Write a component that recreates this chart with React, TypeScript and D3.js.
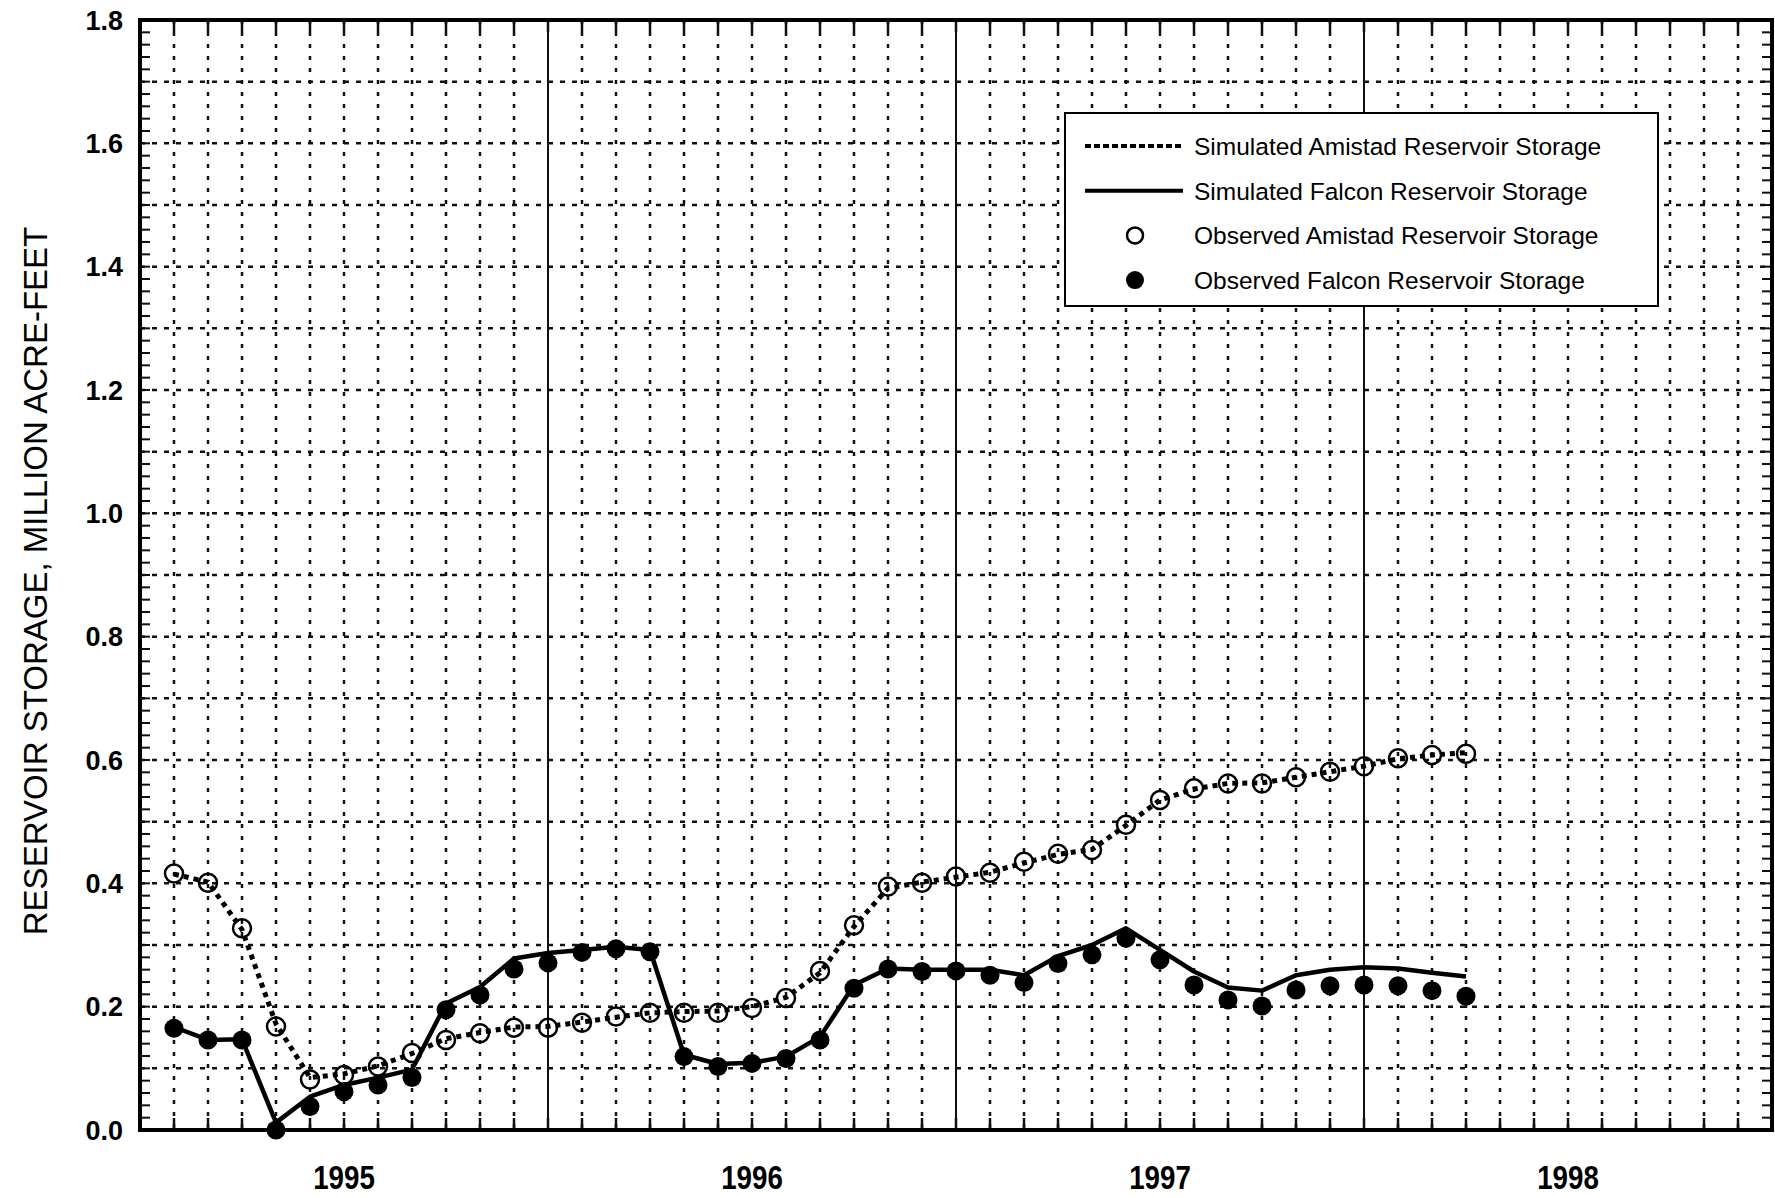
import * as d3 from 'd3';
import { useLayoutEffect, useRef } from 'react';

// monthly observations, Feb 1995 - Apr 1998
const months = [
  '1995-02', '1995-03', '1995-04', '1995-05', '1995-06', '1995-07', '1995-08', '1995-09', '1995-10', '1995-11', '1995-12',
  '1996-01', '1996-02', '1996-03', '1996-04', '1996-05', '1996-06', '1996-07', '1996-08', '1996-09', '1996-10', '1996-11', '1996-12',
  '1997-01', '1997-02', '1997-03', '1997-04', '1997-05', '1997-06', '1997-07', '1997-08', '1997-09', '1997-10', '1997-11', '1997-12',
  '1998-01', '1998-02', '1998-03', '1998-04',
];

const simAmistad = [
  0.415, 0.402, 0.325, 0.172, 0.085, 0.091, 0.104, 0.124, 0.148, 0.158, 0.167,
  0.168, 0.175, 0.183, 0.19, 0.192, 0.193, 0.2, 0.215, 0.255, 0.33, 0.392, 0.402,
  0.41, 0.418, 0.433, 0.447, 0.455, 0.494, 0.535, 0.553, 0.562, 0.563, 0.572, 0.581,
  0.59, 0.602, 0.608, 0.612,
];

const simFalcon = [
  0.167, 0.146, 0.147, 0.012, 0.054, 0.073, 0.085, 0.098, 0.205, 0.232, 0.278,
  0.287, 0.292, 0.297, 0.292, 0.122, 0.107, 0.109, 0.119, 0.151, 0.235, 0.262, 0.26,
  0.26, 0.26, 0.251, 0.282, 0.3, 0.327, 0.292, 0.257, 0.231, 0.226, 0.251, 0.26,
  0.264, 0.262, 0.255, 0.249,
];

const obsAmistad = [
  0.416, 0.401, 0.327, 0.168, 0.082, 0.089, 0.103, 0.125, 0.146, 0.157, 0.166,
  0.166, 0.174, 0.184, 0.19, 0.19, 0.19, 0.198, 0.214, 0.258, 0.332, 0.395, 0.401,
  0.411, 0.417, 0.435, 0.448, 0.454, 0.495, 0.535, 0.554, 0.562, 0.562, 0.572, 0.581,
  0.59, 0.603, 0.608, 0.61,
];

const obsFalcon = [
  0.165, 0.146, 0.146, 0.0, 0.038, 0.062, 0.073, 0.085, 0.195, 0.219, 0.261,
  0.271, 0.288, 0.294, 0.289, 0.119, 0.103, 0.108, 0.116, 0.146, 0.23, 0.261, 0.257,
  0.258, 0.251, 0.239, 0.27, 0.284, 0.311, 0.276, 0.235, 0.211, 0.201, 0.227, 0.234,
  0.235, 0.234, 0.226, 0.217,
];

const years = ['1995', '1996', '1997', '1998'];
const yTickLabels = ['0.0', '0.2', '0.4', '0.6', '0.8', '1.0', '1.2', '1.4', '1.6', '1.8'];

const legendLabels = [
  'Simulated Amistad Reservoir Storage',
  'Simulated Falcon Reservoir Storage',
  'Observed Amistad Reservoir Storage',
  'Observed Falcon Reservoir Storage',
];

const FONT = 'Helvetica, Arial, "Liberation Sans", sans-serif';

export default function App() {
  const ref = useRef<SVGSVGElement>(null);

  useLayoutEffect(() => {
    if (!ref.current) return;
    const svg = d3.select(ref.current);
    svg.selectAll('*').remove();

    const left = 140, right = 1772, top = 20, bottom = 1130;

    // month index from Jan 1995
    const monthIndex = (s: string) => {
      const [yr, mo] = s.split('-').map(Number);
      return (yr - 1995) * 12 + (mo - 1);
    };

    const x = d3.scaleLinear().domain([0, 48]).range([left, right]);
    const y = d3.scaleLinear().domain([0, 1.8]).range([bottom, top]);

    const g = svg.append('g');

    // grid: monthly dotted verticals, solid year lines
    const monthLines = d3.range(1, 48);
    g.selectAll('line.vgrid')
      .data(monthLines.filter((m) => m % 12 !== 0))
      .join('line')
      .attr('x1', (d) => x(d))
      .attr('x2', (d) => x(d))
      .attr('y1', top)
      .attr('y2', bottom)
      .attr('stroke', '#111')
      .attr('stroke-width', 2.5)
      .attr('stroke-dasharray', '4,8');

    g.selectAll('line.year')
      .data(monthLines.filter((m) => m % 12 === 0))
      .join('line')
      .attr('x1', (d) => x(d))
      .attr('x2', (d) => x(d))
      .attr('y1', top)
      .attr('y2', bottom)
      .attr('stroke', '#111')
      .attr('stroke-width', 2);

    const hGrid = y.ticks(18).filter((v) => v > 0.001 && v < 1.799);
    g.selectAll('line.hgrid')
      .data(hGrid)
      .join('line')
      .attr('x1', left)
      .attr('x2', right)
      .attr('y1', (d) => y(d))
      .attr('y2', (d) => y(d))
      .attr('stroke', '#111')
      .attr('stroke-width', 2.5)
      .attr('stroke-dasharray', '5,7');

    // minor ticks on left/right axes
    const minor = y.ticks(90);
    g.selectAll('line.lt')
      .data(minor)
      .join('line')
      .attr('x1', left)
      .attr('x2', left + 10)
      .attr('y1', (d) => y(d))
      .attr('y2', (d) => y(d))
      .attr('stroke', '#111')
      .attr('stroke-width', 2);
    g.selectAll('line.rt')
      .data(minor)
      .join('line')
      .attr('x1', right)
      .attr('x2', right - 10)
      .attr('y1', (d) => y(d))
      .attr('y2', (d) => y(d))
      .attr('stroke', '#111')
      .attr('stroke-width', 2);

    // month ticks on top/bottom axes
    g.selectAll('line.bt')
      .data(monthLines)
      .join('line')
      .attr('x1', (d) => x(d))
      .attr('x2', (d) => x(d))
      .attr('y1', bottom)
      .attr('y2', bottom - 12)
      .attr('stroke', '#111')
      .attr('stroke-width', 2.5);
    g.selectAll('line.tt')
      .data(monthLines)
      .join('line')
      .attr('x1', (d) => x(d))
      .attr('x2', (d) => x(d))
      .attr('y1', top)
      .attr('y2', top + 12)
      .attr('stroke', '#111')
      .attr('stroke-width', 2.5);

    // frame
    g.append('rect')
      .attr('x', left)
      .attr('y', top)
      .attr('width', right - left)
      .attr('height', bottom - top)
      .attr('fill', 'none')
      .attr('stroke', '#000')
      .attr('stroke-width', 4);

    // y tick labels
    g.selectAll('text.yl')
      .data(yTickLabels)
      .join('text')
      .text((d) => d)
      .attr('x', 123)
      .attr('y', (d) => y(+d))
      .attr('dy', '0.36em')
      .attr('text-anchor', 'end')
      .attr('font-family', FONT)
      .attr('font-weight', 'bold')
      .attr('font-size', 27)
      .attr('fill', '#000');

    // year labels
    g.selectAll('text.year')
      .data(years)
      .join('text')
      .text((d) => d)
      .attr('transform', (d, i) => `translate(${x(i * 12 + 6)},1189) scale(0.84,1)`)
      .attr('text-anchor', 'middle')
      .attr('font-family', FONT)
      .attr('font-weight', 'bold')
      .attr('font-size', 33)
      .attr('fill', '#000');

    // y axis title
    g.append('text')
      .text('RESERVOIR STORAGE, MILLION ACRE-FEET')
      .attr('transform', 'translate(47,581) rotate(-90)')
      .attr('text-anchor', 'middle')
      .attr('font-family', FONT)
      .attr('font-size', 33)
      .attr('fill', '#000');

    const pts = (vals: number[]) => months.map((m, i) => ({ m: monthIndex(m), v: vals[i] }));
    const line = d3
      .line<{ m: number; v: number }>()
      .x((d) => x(d.m))
      .y((d) => y(d.v));

    // simulated Amistad (dotted)
    g.append('path')
      .attr('d', line(pts(simAmistad)))
      .attr('fill', 'none')
      .attr('stroke', '#000')
      .attr('stroke-width', 5)
      .attr('stroke-dasharray', '5,5');

    // simulated Falcon (solid)
    g.append('path')
      .attr('d', line(pts(simFalcon)))
      .attr('fill', 'none')
      .attr('stroke', '#000')
      .attr('stroke-width', 4.5)
      .attr('stroke-linejoin', 'round');

    // observed Amistad (open circles)
    g.selectAll('circle.oa')
      .data(pts(obsAmistad))
      .join('circle')
      .attr('cx', (d) => x(d.m))
      .attr('cy', (d) => y(d.v))
      .attr('r', 9)
      .attr('fill', 'none')
      .attr('stroke', '#000')
      .attr('stroke-width', 2.5);

    // observed Falcon (filled)
    g.selectAll('circle.of')
      .data(pts(obsFalcon))
      .join('circle')
      .attr('cx', (d) => x(d.m))
      .attr('cy', (d) => y(d.v))
      .attr('r', 9.5)
      .attr('fill', '#000');

    // legend
    const lg = g.append('g');
    lg.append('rect')
      .attr('x', 1065)
      .attr('y', 113)
      .attr('width', 593)
      .attr('height', 193)
      .attr('fill', '#fff')
      .attr('stroke', '#000')
      .attr('stroke-width', 2);

    const rowY = (i: number) => 146 + i * 44.7;
    lg.append('line')
      .attr('x1', 1085).attr('x2', 1183)
      .attr('y1', rowY(0)).attr('y2', rowY(0))
      .attr('stroke', '#000')
      .attr('stroke-width', 4)
      .attr('stroke-dasharray', '6,3');
    lg.append('line')
      .attr('x1', 1085).attr('x2', 1183)
      .attr('y1', rowY(1)).attr('y2', rowY(1))
      .attr('stroke', '#000')
      .attr('stroke-width', 4);
    lg.append('circle')
      .attr('cx', 1135).attr('cy', rowY(2))
      .attr('r', 8)
      .attr('fill', 'none')
      .attr('stroke', '#000')
      .attr('stroke-width', 2.5);
    lg.append('circle')
      .attr('cx', 1135).attr('cy', rowY(3))
      .attr('r', 9)
      .attr('fill', '#000');

    lg.selectAll('text.leg')
      .data(legendLabels)
      .join('text')
      .text((d) => d)
      .attr('x', 1194)
      .attr('y', (d, i) => rowY(i))
      .attr('dy', '0.36em')
      .attr('font-family', FONT)
      .attr('font-size', 24.5)
      .attr('fill', '#000');
  }, []);

  return (
    <svg
      ref={ref}
      width={1775}
      height={1198}
      style={{ position: 'absolute', left: 0, top: 0, background: '#fff' }}
    />
  );
}
